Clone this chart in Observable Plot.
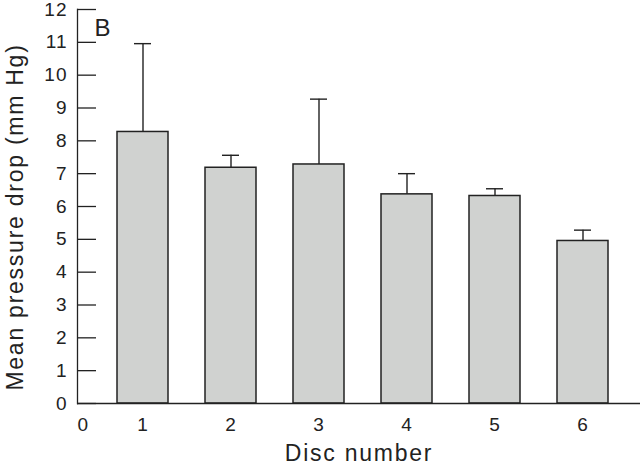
<!DOCTYPE html>
<html>
<head>
<meta charset="utf-8">
<script src="https://cdn.jsdelivr.net/npm/d3@7"></script>
<script src="https://cdn.jsdelivr.net/npm/@observablehq/plot@0.6"></script>
<style>
  html, body { margin: 0; padding: 0; background: #fff; }
  #chart svg { display: block; }
</style>
</head>
<body>
<div id="chart"></div>
<script>
const discs = [1, 2, 3, 4, 5, 6];
const means = [8.27, 7.18, 7.28, 6.37, 6.32, 4.95];
const upper = [10.96, 7.56, 9.27, 7.00, 6.54, 5.28];
const yTicks = [0, 1, 2, 3, 4, 5, 6, 7, 8, 9, 10, 11, 12];
const panelLabel = ["B"];
const originLabel = ["0"];
const xLabel = "Disc number";
const yLabel = "Mean pressure drop (mm Hg)";

const data = discs.map((d, i) => ({disc: d, mean: means[i], hi: upper[i]}));

const W = 640, H = 465;
const mL = 77, mR = 0, mT = 9, mB = 62;
const ink = "#222";

const plot = Plot.plot({
  width: W,
  height: H,
  marginLeft: mL,
  marginRight: mR,
  marginTop: mT,
  marginBottom: mB,
  style: {fontFamily: "'Liberation Sans', Arial, Helvetica, sans-serif", background: "#fff", color: ink},
  x: {type: "band", domain: discs, paddingInner: 0.42, paddingOuter: 0.21, insetLeft: 22, insetRight: 13, label: null},
  y: {domain: [0, 12], label: null},
  marks: [
    Plot.barY(data, {x: "disc", y: "mean", fill: "#d0d2d0", stroke: ink, strokeWidth: 1.5}),
    Plot.ruleX(data, {x: "disc", y1: "mean", y2: "hi", stroke: ink, strokeWidth: 1.4}),
    Plot.tickY(data, {x: "disc", y: "hi", stroke: ink, strokeWidth: 1.4, insetLeft: 17, insetRight: 17}),
    Plot.tickY(yTicks, {y: d => d, stroke: ink, strokeWidth: 1.3, insetRight: (W - mL - mR) - 19}),
    Plot.ruleY([0], {stroke: ink, strokeWidth: 1.3}),
    Plot.frame({anchor: "left", stroke: ink, strokeWidth: 1.3}),
    Plot.axisY(yTicks, {tickSize: 0, tickPadding: 10, fontSize: 19, label: null}),
    Plot.axisX(discs, {tickSize: 0, tickPadding: 14, fontSize: 19, label: null}),
    Plot.text(originLabel, {frameAnchor: "bottom-left", lineAnchor: "top", dy: 14, fontSize: 19, fill: ink}),
    Plot.text(panelLabel, {frameAnchor: "top-left", textAnchor: "start", lineAnchor: "top", dx: 17, dy: 9, fontSize: 24, fill: ink}),
    Plot.text([xLabel], {frameAnchor: "bottom", lineAnchor: "bottom", dy: 57, fontSize: 23, fill: ink}),
    Plot.text([yLabel], {frameAnchor: "left", textAnchor: "middle", rotate: -90, dx: -62, dy: 10.5, fontSize: 23, fill: ink})
  ]
});

d3.select(plot).selectAll("text").each(function() {
  const t = this.textContent;
  if (t === xLabel || t === yLabel) d3.select(this).style("letter-spacing", "1.75px");
  else d3.select(this).style("letter-spacing", "1px");
});

document.getElementById("chart").appendChild(plot);
</script>
</body>
</html>
